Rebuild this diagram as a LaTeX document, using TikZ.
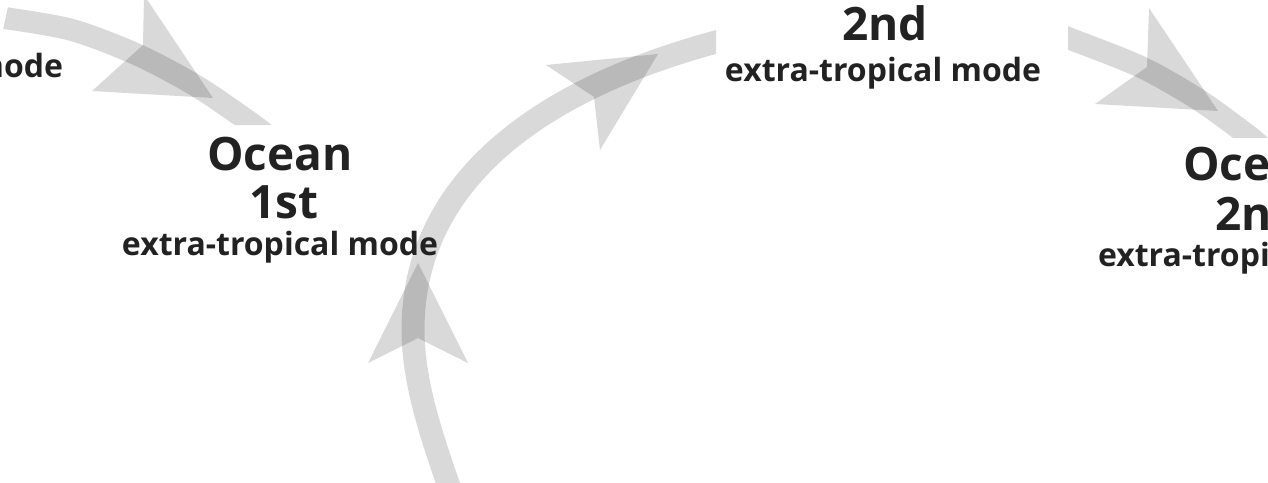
\documentclass[tikz,border=0pt]{standalone}
\usepackage{fontspec}
\setmainfont{Open Sans}
\definecolor{txt}{RGB}{34,34,34}
\begin{document}
\begin{tikzpicture}[x=1pt,y=-1pt,
  band/.style={draw=black,draw opacity=0.15,line cap=butt},
  head/.style={fill=black,fill opacity=0.15},
  big/.style={font=\fontsize{46}{54}\selectfont\bfseries,text=txt,inner sep=0pt,anchor=base},
  small/.style={font=\fontsize{32}{38}\selectfont\bfseries,text=txt,inner sep=0pt,anchor=base}]
\useasboundingbox (0,0) rectangle (1268,482);
\clip (0,0) rectangle (1268,482);
% arc 1 (top left)
\begin{scope}
  \clip (11.7,-10) -- (400,-10) -- (400,125) -- (-17.7,125) -- cycle;
  \draw[band,line width=22pt] plot[smooth] coordinates {(-8,17) (5,18) (72,30) (138,55) (198,87) (255,126) (268,137)};
\end{scope}
\fill[head] (213,98) -- (144,-5) -- (143,45) -- (92,91) -- cycle;
% arc 2 (top right)
\begin{scope}
  \clip (1068,-10) rectangle (1300,137);
  \draw[band,line width=22pt] plot[smooth] coordinates {(1055,33) (1068,38) (1141,67) (1199,100) (1250,137) (1262,148)};
\end{scope}
\fill[head] (1218,111) -- (1149,8) -- (1147,67) -- (1095,104) -- cycle;
% arc 3 (big loop)
\begin{scope}
  \clip (300,0) rectangle (716,490);
  \draw[band,line width=23pt] (452,495) .. controls (434,443) and (413,385) .. (413,330)
    .. controls (413,180) and (542,89) .. (716,42) -- (735.3,36.8);
\end{scope}
\fill[head] (418,263) -- (368,363) -- (418,338) -- (468,363) -- cycle;
\fill[head] (658,54) -- (546,65) -- (594,97) -- (600,150) -- cycle;
% texts
\node[small] (m0) at (-95,77) {extra-tropical mode};
\node[big] (o1) at (280,170) {Ocean};
\node[big] (n1) at (284,218) {1st};
\node[small] (m1) at (280,255) {extra-tropical mode};
\node[big] (n2) at (885,40) {2nd};
\node[small] (m2) at (883,81) {extra-tropical mode};
\node[big] (o3) at (1256,180) {Ocean};
\node[big] (n3) at (1258,230) {2nd};
\node[small] (m3) at (1256,266) {extra-tropical mode};
\end{tikzpicture}
\end{document}
